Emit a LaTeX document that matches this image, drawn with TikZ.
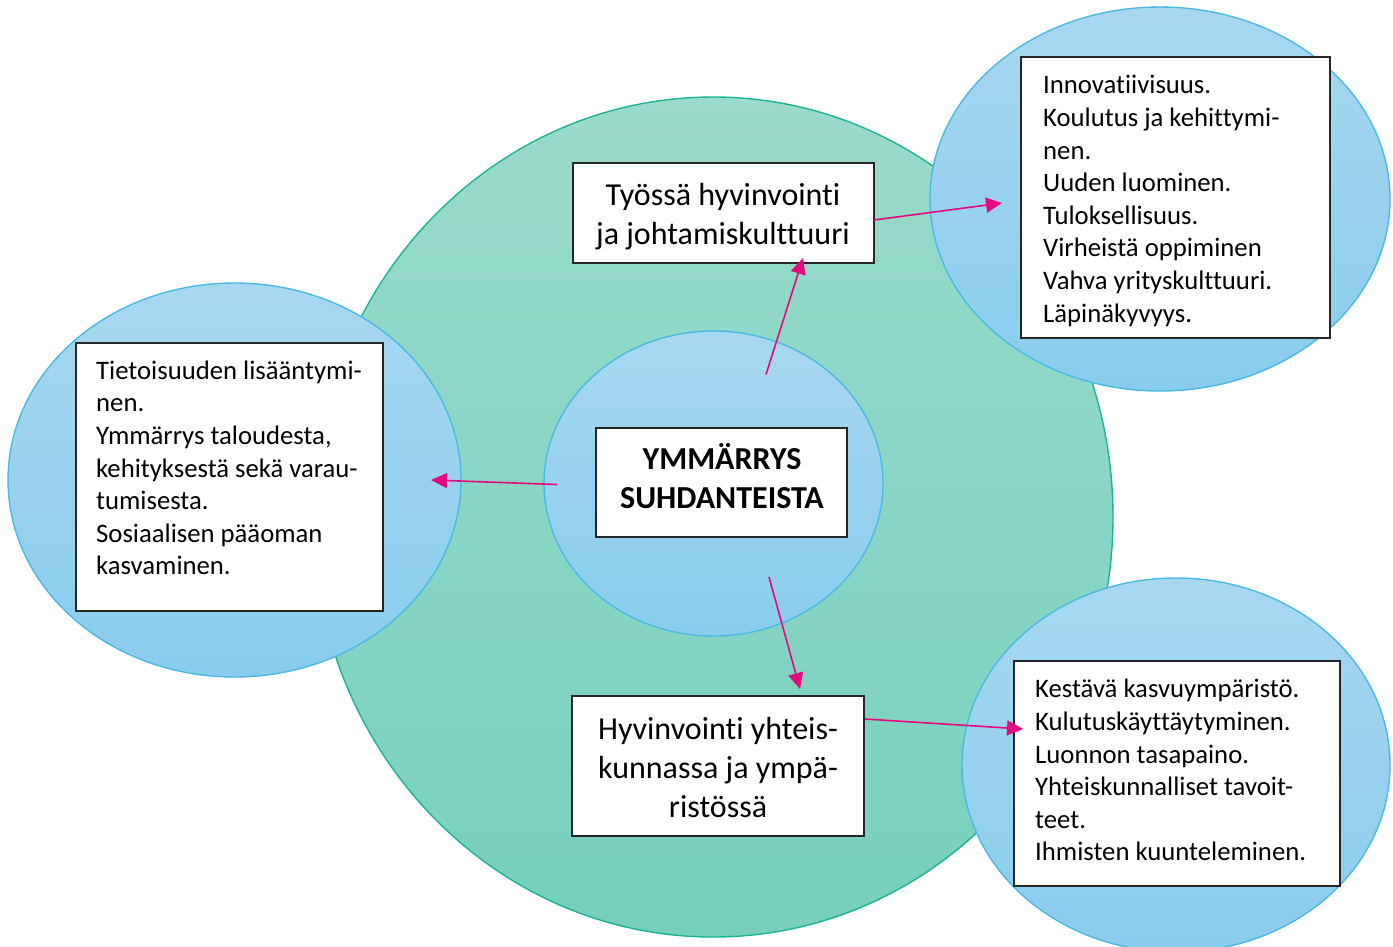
\documentclass[tikz,border=0pt]{standalone}
\usepackage{fontspec}
\setmainfont[Ligatures={NoCommon},RawFeature={-liga;-clig}]{Carlito}
\usetikzlibrary{shapes.geometric,arrows.meta}
\definecolor{grnTop}{HTML}{9ADBCB}
\definecolor{grnBot}{HTML}{77CFBD}
\definecolor{grnLine}{HTML}{1AB394}
\definecolor{bluTop}{HTML}{A8D8F0}
\definecolor{bluBot}{HTML}{89CCEE}
\definecolor{bluLine}{HTML}{4BB8E4}
\definecolor{arr}{HTML}{E5097F}
\definecolor{boxLine}{HTML}{262626}
\begin{document}
\begin{tikzpicture}[x=1pt,y=-1pt,
  greenell/.style={ellipse,inner sep=0pt,draw=grnLine,line width=1.4pt,top color=grnTop,bottom color=grnBot},
  blueell/.style={ellipse,inner sep=0pt,draw=bluLine,line width=1.4pt,top color=bluTop,bottom color=bluBot},
  txtbox/.style={rectangle,draw=boxLine,line width=1.4pt,fill=white,inner sep=0pt},
  smalltxt/.style={inner sep=0pt,anchor=north west,align=left,font=\fontsize{26.7}{32.6}\selectfont},
  bigtxt/.style={inner sep=0pt,anchor=north,align=center,font=\fontsize{32}{39}\selectfont},
  link/.style={draw=arr,line width=1.6pt,-{Triangle[length=16pt,width=15pt]}}
]
\useasboundingbox (0,0) rectangle (1393,946);

% ellipses
\node[greenell,minimum width=800pt,minimum height=840pt] (big) at (713,517) {};
\node[blueell,minimum width=453pt,minimum height=394pt] (leftell) at (234.5,480) {};
\node[blueell,minimum width=460pt,minimum height=384pt] (trell) at (1160,199) {};
\node[blueell,minimum width=428pt,minimum height=374pt] (brell) at (1176,765) {};
\node[blueell,minimum width=339pt,minimum height=305pt] (cell) at (713.5,483.5) {};

% boxes
\node[txtbox,minimum width=301pt,minimum height=100pt] (topbox) at (723.5,213) {};
\node[txtbox,minimum width=251pt,minimum height=109pt] (cbox) at (721.5,482.5) {};
\node[txtbox,minimum width=292pt,minimum height=140pt] (botbox) at (718,766) {};
\node[txtbox,minimum width=307pt,minimum height=268pt] (leftbox) at (229.5,477) {};
\node[txtbox,minimum width=309pt,minimum height=281pt] (trbox) at (1175.5,197.5) {};
\node[txtbox,minimum width=326pt,minimum height=225pt] (brbox) at (1177,773.5) {};

% texts
\node[bigtxt] (toptxt) at (723,177.7) {\strut Työssä hyvinvointi\\ja johtamiskulttuuri};
\node[bigtxt,font=\fontsize{32}{39}\selectfont\bfseries] (ctxt) at (722,441.7) {\strut YMMÄRRYS\\SUHDANTEISTA};
\node[bigtxt] (bottxt) at (718,711.7) {\strut Hyvinvointi yhteis-\\kunnassa ja ympä-\\ristössä};
\node[smalltxt] (lefttxt) at (96,356.2) {\strut Tietoisuuden lisääntymi-\\nen.\\Ymmärrys taloudesta,\\kehityksestä sekä varau-\\tumisesta.\\Sosiaalisen pääoman\\kasvaminen.};
\node[smalltxt] (trtxt) at (1043,70.9) {\strut Innovatiivisuus.\\Koulutus ja kehittymi-\\nen.\\Uuden luominen.\\Tuloksellisuus.\\Virheistä oppiminen\\Vahva yrityskulttuuri.\\Läpinäkyvyys.};
\node[smalltxt] (brtxt) at (1035,674.9) {\strut Kestävä kasvuympäristö.\\Kulutuskäyttäytyminen.\\Luonnon tasapaino.\\Yhteiskunnalliset tavoit-\\teet.\\Ihmisten kuunteleminen.};

% connector end points
\coordinate (cL) at (557,484.5);
\coordinate (tipL) at (431,480);
\coordinate (cU) at (766,374.5);
\coordinate (tipU) at (803,258);
\coordinate (tbR) at (874,220);
\coordinate (tipTR) at (1002,203);
\coordinate (cD) at (769,577);
\coordinate (tipD) at (800,689);
\coordinate (bbR) at (865,719);
\coordinate (tipBR) at (1023,729);

\draw[link] (cL) -- (tipL);
\draw[link] (cU) -- (tipU);
\draw[link] (tbR) -- (tipTR);
\draw[link] (cD) -- (tipD);
\draw[link] (bbR) -- (tipBR);
\end{tikzpicture}
\end{document}
